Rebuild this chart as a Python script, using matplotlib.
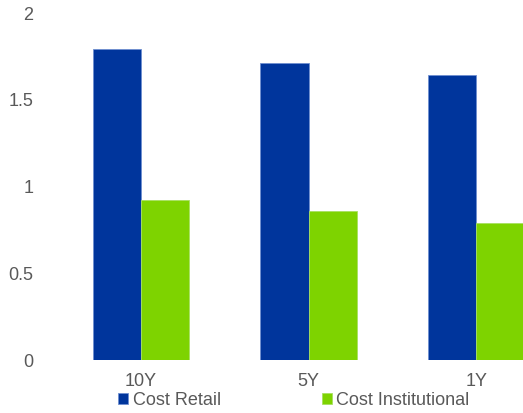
import numpy as np
import matplotlib
matplotlib.use('Agg')
import matplotlib.pyplot as plt

plt.rcParams['font.family'] = ['Liberation Sans', 'DejaVu Sans']

periods = ['10Y', '5Y', '1Y']
cost_retail = [1.785, 1.705, 1.638]
cost_institutional = [0.92, 0.856, 0.787]

blue = '#00359C'
green = '#7ED300'
grey = '#595959'

fig = plt.figure(figsize=(5.23, 4.14), dpi=100)
# plot area runs past the right edge, like the cropped original
ax = fig.add_axes([57/523, 53/414, 503/523, 348/414])

x = np.arange(len(periods))
w = 0.287
ax.bar(x - w/2, cost_retail, w, color=blue, edgecolor='#6F8FD0', linewidth=0.6, label='Cost Retail')
ax.bar(x + w/2, cost_institutional, w, color=green, edgecolor='#A8E060', linewidth=0.6, label='Cost Institutional')

ax.set_xlim(-0.5, len(periods) - 0.5)
ax.set_ylim(0, 2)
ax.set_yticks([0, 0.5, 1, 1.5, 2])
ax.set_yticklabels(['0', '0.5', '1', '1.5', '2'])
ax.set_xticks(x)
ax.set_xticklabels(periods)

for s in ax.spines.values():
    s.set_visible(False)
ax.tick_params(axis='both', length=0, labelsize=13, labelcolor=grey)
ax.tick_params(axis='y', pad=17)
ax.tick_params(axis='x', pad=8.5)

fig.legend(loc='center', bbox_to_anchor=(294/523, 1 - 401/414), ncol=2,
           frameon=False, fontsize=13, labelcolor=grey,
           handlelength=0.55, handleheight=0.55, handletextpad=0.25,
           columnspacing=5.6, borderpad=0, borderaxespad=0)

fig.savefig('out.png', dpi=100)
